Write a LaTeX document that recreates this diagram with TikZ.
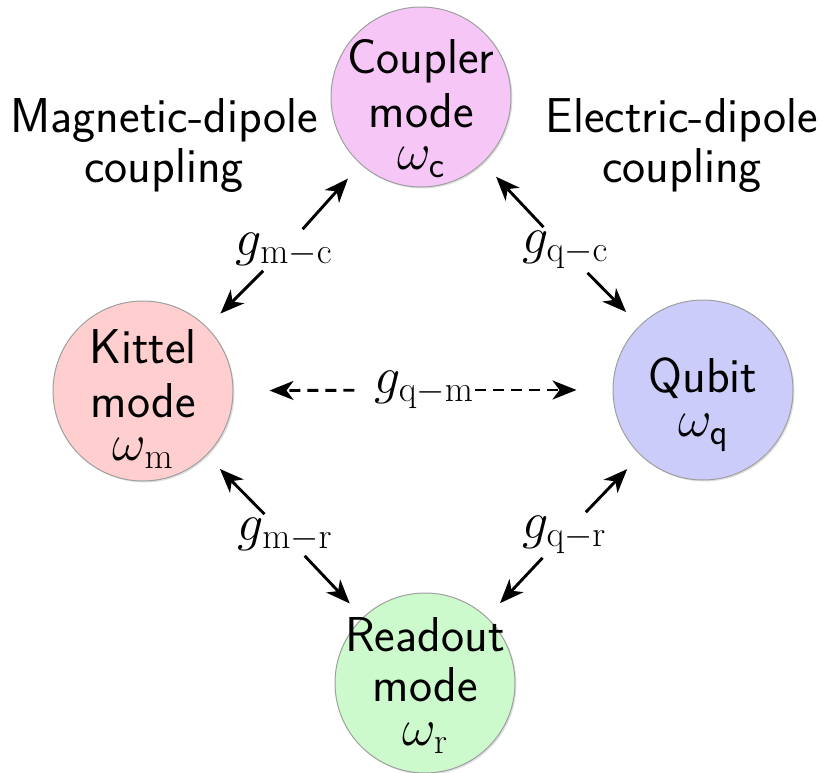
\RequirePackage{fix-cm}
\documentclass[tikz,border=0pt]{standalone}
\usetikzlibrary{arrows.meta,shadows}
\definecolor{cpink}{RGB}{246,198,246}
\definecolor{kred}{RGB}{255,206,206}
\definecolor{qblue}{RGB}{204,204,250}
\definecolor{rgreen}{RGB}{204,250,204}
\newcommand{\mthsize}{\fontsize{52}{56}\selectfont}
\tikzset{
  modecirc/.style={circle, minimum size=180pt, inner sep=0pt, draw=gray!75, line width=1pt,
    drop shadow={opacity=0.25, shadow xshift=1.5pt, shadow yshift=-1.5pt}},
  modetext/.style={anchor=north, align=center, inner sep=0pt,
    font=\sffamily\fontsize{49}{56}\selectfont},
  sidetext/.style={anchor=north, align=center, inner sep=0pt,
    font=\sffamily\fontsize{49}{50}\selectfont},
  glabel/.style={inner sep=4pt, font=\mthsize},
  arr/.style={-{Stealth[length=24pt,width=19pt,inset=7pt]}, line width=2.9pt, shorten >=19pt},
  darr/.style={arr, dash pattern=on 11pt off 7pt, shorten >=36pt}
}
\begin{document}
\begin{tikzpicture}[x=1pt,y=-1pt]
\useasboundingbox (0,0) rectangle (822,773);
% mode circles
\node[modecirc, fill=cpink] (c) at (421,97) {};
\node[modecirc, fill=kred] (k) at (143,391) {};
\node[modecirc, fill=qblue] (q) at (703,390) {};
\node[modecirc, fill=rgreen] (r) at (425,683) {};
% texts in circles
\node[modetext] (ct) at ([yshift=58pt]c.center) {Coupler\\[-2pt]mode\\[-14pt]{\mthsize$\omega_{\mathsf{c}}$}};
\node[modetext] (kt) at ([yshift=62pt]k.center) {Kittel\\[-2pt]mode\\[-13pt]{\mthsize$\omega_{\mathrm{m}}$}};
\node[modetext] (qt) at ([yshift=32pt]q.center) {Qubit\\[-12pt]{\mthsize$\omega_{\mathsf{q}}$}};
\node[modetext] (rt) at ([yshift=66pt]r.center) {Readout\\[-6pt]mode\\[-12pt]{\mthsize$\omega_{\mathrm{r}}$}};
% side texts
\node[sidetext] (mag) at (164,98) {Magnetic-dipole\\coupling};
\node[sidetext] (ele) at (682,98) {Electric-dipole\\coupling};
% coupling labels
\node[glabel] (mc) at (284,250) {$g_{\mathrm{m-c}}$};
\node[glabel] (qc) at (565,250) {$g_{\mathrm{q-c}}$};
\node[glabel] (mr) at (285,535) {$g_{\mathrm{m-r}}$};
\node[glabel] (qr) at (564,535) {$g_{\mathrm{q-r}}$};
\node[glabel] (qm) at (424,390) {$g_{\mathrm{q-m}}$};
% arrows
\draw[arr] (mc) -- (c);
\draw[arr] (mc) -- (k);
\draw[arr] (qc) -- (c);
\draw[arr] (qc) -- (q);
\draw[arr] (mr) -- (k);
\draw[arr] (mr) -- (r);
\draw[arr] (qr) -- (q);
\draw[arr] (qr) -- (r);
\draw[darr, shorten <=16pt] (qm) -- (k);
\draw[darr, shorten <=-3pt] (qm) -- (q);
\end{tikzpicture}
\end{document}
